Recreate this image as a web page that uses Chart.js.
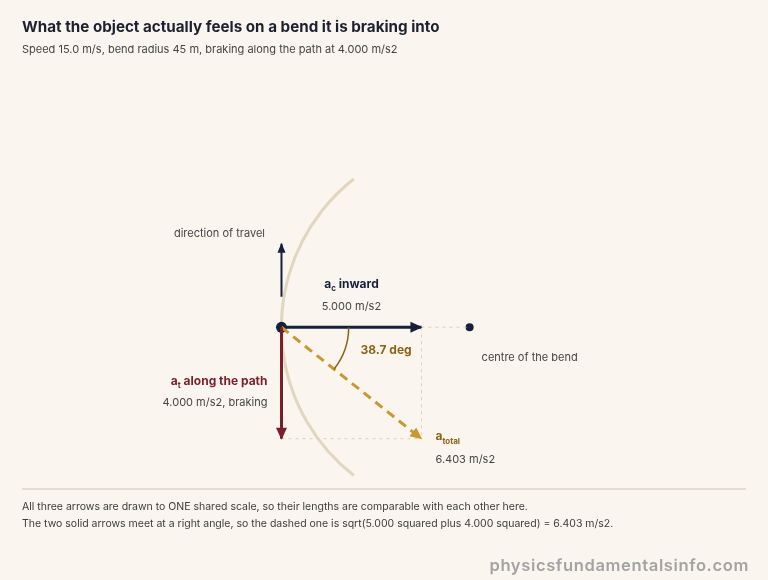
<!DOCTYPE html>
<html>
<head>
<meta charset="utf-8">
<script src="https://cdn.jsdelivr.net/npm/chart.js@4.4.1/dist/chart.umd.min.js"></script>
<style>
  html, body { margin: 0; padding: 0; background: #faf6ef; }
  body { width: 768px; height: 580px; position: relative; overflow: hidden; font-family: Inter, 'Noto Sans', sans-serif; }
  #diagram { position: absolute; left: 0; top: 0; }
  .txt { position: absolute; white-space: nowrap; }
  #title { left: 22px; top: 16px; font-size: 15.2px; font-weight: 700; color: #1d2030; line-height: 22px; }
  #subtitle { left: 22px; top: 41px; font-size: 11px; color: #444; line-height: 16px; }
  #rule { position: absolute; left: 22px; top: 488px; width: 724px; height: 2px; background: #e4ddcf; }
  .note { left: 22px; font-size: 10.5px; color: #3c3c3c; line-height: 15px; }
  #note1 { top: 499px; }
  #note2 { top: 516px; }
  #brand { right: 19px; top: 554px; font-size: 16.6px; font-weight: 600; color: #a3a3a3; letter-spacing: 0.6px; line-height: 22px; }
</style>
</head>
<body>
<canvas id="diagram" width="768" height="580"></canvas>
<div class="txt" id="title">What the object actually feels on a bend it is braking into</div>
<div class="txt" id="subtitle">Speed 15.0 m/s, bend radius 45 m, braking along the path at 4.000 m/s2</div>
<div id="rule"></div>
<div class="txt note" id="note1">All three arrows are drawn to ONE shared scale, so their lengths are comparable with each other here.</div>
<div class="txt note" id="note2">The two solid arrows meet at a right angle, so the dashed one is sqrt(5.000 squared plus 4.000 squared) = 6.403 m/s2.</div>
<div class="txt" id="brand">physicsfundamentalsinfo.com</div>

<script>
// ---- valeurs (m/s2) ----
const vectorLabels = ['inward', 'along the path', 'total'];
const centripetal = [5.000, 0];        // a_c : vers le centre
const tangential = [0, -4.000];        // a_t : freinage, le long du chemin
const total = [5.000, -4.000];         // a_total = a_c + a_t
const valueTexts = ['5.000 m/s2', '4.000 m/s2, braking', '6.403 m/s2'];
const angleText = ['38.7 deg'];
const travelArrow = [1.1, 3.0];        // fleche "direction of travel" (y)
const bendCentre = [6.72, 0];          // point "centre of the bend"
const angleArcRadius = [2.4];
const bendArcHalfSpanDeg = [52];

// couleurs
const NAVY = '#16203a';
const CRIMSON = '#7c1f2d';
const GOLD = '#c9982f';
const GOLD_DARK = '#8a6516';
const ROAD = '#e1d6be';
const GUIDE = '#d8d1c3';
const GREY = '#454545';

// cadrage : 28.4 px par m/s2, origine a (280, 328)
const PX = 28.4, OX = 280, OY = 328, W = 768, H = 580;

const pt = (a) => ({ x: a[0], y: a[1] });
const O = { x: 0, y: 0 };

function segment(from, to, color, width, dash) {
  return {
    type: 'line',
    data: [from, to],
    borderColor: color,
    borderWidth: width,
    borderDash: dash || [],
    borderCapStyle: 'butt',
    pointRadius: 0,
    fill: false,
    tension: 0
  };
}

// texte avec indice (a_c, a_t, a_total)
function richText(ctx, parts, x, y, align) {
  let w = 0;
  parts.forEach(p => { ctx.font = p.font; w += ctx.measureText(p.t).width; });
  let cx = align === 'center' ? x - w / 2 : align === 'right' ? x - w : x;
  ctx.textAlign = 'left';
  ctx.textBaseline = 'middle';
  parts.forEach(p => {
    ctx.font = p.font;
    ctx.fillStyle = p.color;
    ctx.fillText(p.t, cx, y + (p.dy || 0));
    cx += ctx.measureText(p.t).width;
  });
}

function arrowHead(ctx, x0, y0, x1, y1, color, len, half) {
  const a = Math.atan2(y1 - y0, x1 - x0);
  ctx.save();
  ctx.translate(x1, y1);
  ctx.rotate(a);
  ctx.fillStyle = color;
  ctx.beginPath();
  ctx.moveTo(1, 0);
  ctx.lineTo(-len, -half);
  ctx.lineTo(-len, half);
  ctx.closePath();
  ctx.fill();
  ctx.restore();
}

const bendPlugin = {
  id: 'bend',
  beforeDatasetsDraw(chart) {
    const { ctx, scales: { x, y } } = chart;
    const cx = x.getPixelForValue(bendCentre[0]);
    const cy = y.getPixelForValue(bendCentre[1]);
    const r = cx - x.getPixelForValue(0);
    const span = bendArcHalfSpanDeg[0] * Math.PI / 180;
    ctx.save();
    ctx.strokeStyle = ROAD;
    ctx.lineWidth = 3;
    ctx.beginPath();
    ctx.arc(cx, cy, r, Math.PI - span, Math.PI + span);
    ctx.stroke();
    ctx.restore();
  },
  afterDatasetsDraw(chart) {
    const { ctx, scales: { x, y } } = chart;
    const X = v => x.getPixelForValue(v);
    const Y = v => y.getPixelForValue(v);
    const ox = X(0), oy = Y(0);

    // pointes de fleches
    arrowHead(ctx, ox, Y(travelArrow[0]), ox, Y(travelArrow[1]), NAVY, 9, 4);
    arrowHead(ctx, ox, oy, X(centripetal[0]), Y(centripetal[1]), NAVY, 11, 5.5);
    arrowHead(ctx, ox, oy, X(tangential[0]), Y(tangential[1]), CRIMSON, 11, 5.5);
    arrowHead(ctx, ox, oy, X(total[0]), Y(total[1]), GOLD, 11, 5.5);

    // arc de l'angle
    const ang = Math.atan2(-tangential[1], centripetal[0]);
    const rr = X(angleArcRadius[0]) - ox;
    ctx.save();
    ctx.strokeStyle = GOLD_DARK;
    ctx.lineWidth = 1.5;
    ctx.beginPath();
    ctx.arc(ox, oy, rr, 0, ang);
    ctx.stroke();
    ctx.restore();

    const B = '700 12px Inter, sans-serif';
    const S = '700 8px Inter, sans-serif';
    const N = '11px Inter, sans-serif';
    const N11 = '11px Inter, sans-serif';

    // direction of travel
    richText(ctx, [{ t: 'direction of travel', font: N11, color: GREY }], ox - 62, Y(travelArrow[1]) - 10, 'center');

    // a_c
    const acx = X(centripetal[0] / 2);
    richText(ctx, [
      { t: 'a', font: B, color: NAVY },
      { t: 'c', font: S, color: NAVY, dy: 4 },
      { t: ' ' + vectorLabels[0], font: B, color: NAVY }
    ], acx, oy - 43, 'center');
    richText(ctx, [{ t: valueTexts[0], font: N, color: GREY }], acx, oy - 21, 'center');

    // angle
    richText(ctx, [{ t: angleText[0], font: B, color: GOLD_DARK }], ox + 79, oy + 23, 'left');

    // centre of the bend
    richText(ctx, [{ t: 'centre of the bend', font: N11, color: GREY }], X(bendCentre[0]) + 12, Y(bendCentre[1]) + 30, 'left');

    // a_t
    richText(ctx, [
      { t: 'a', font: B, color: CRIMSON },
      { t: 't', font: S, color: CRIMSON, dy: 4 },
      { t: ' ' + vectorLabels[1], font: B, color: CRIMSON }
    ], ox - 14, oy + 54, 'right');
    richText(ctx, [{ t: valueTexts[1], font: N, color: GREY }], ox - 14, oy + 75, 'right');

    // a_total
    const tx = X(total[0]), ty = Y(total[1]);
    richText(ctx, [
      { t: 'a', font: B, color: GOLD_DARK },
      { t: vectorLabels[2], font: S, color: GOLD_DARK, dy: 5 }
    ], tx + 14, ty - 2, 'left');
    richText(ctx, [{ t: valueTexts[2], font: N, color: GREY }], tx + 14, ty + 21, 'left');
  }
};

new Chart(document.getElementById('diagram'), {
  type: 'scatter',
  data: {
    datasets: [
      // guides pointilles
      segment(pt(centripetal), pt(bendCentre), GUIDE, 1, [3, 4]),
      segment(pt(centripetal), pt(total), GUIDE, 1, [3, 4]),
      segment(pt(tangential), pt(total), GUIDE, 1, [3, 4]),
      // fleches
      segment({ x: 0, y: travelArrow[0] }, { x: 0, y: travelArrow[1] }, NAVY, 2),
      segment(O, pt(tangential), CRIMSON, 3),
      segment(O, pt(total), GOLD, 3, [9, 6]),
      segment(O, pt(centripetal), NAVY, 3),
      // points
      {
        type: 'scatter',
        data: [O],
        pointRadius: 5.5,
        pointBackgroundColor: NAVY,
        pointBorderWidth: 0
      },
      {
        type: 'scatter',
        data: [pt(bendCentre)],
        pointRadius: 4,
        pointBackgroundColor: NAVY,
        pointBorderWidth: 0
      }
    ]
  },
  options: {
    responsive: false,
    animation: false,
    layout: { padding: 0 },
    plugins: { legend: { display: false }, tooltip: { enabled: false }, title: { display: false } },
    events: [],
    scales: {
      x: { type: 'linear', display: false, min: -OX / PX, max: (W - OX) / PX },
      y: { type: 'linear', display: false, min: -(H - OY) / PX, max: OY / PX }
    }
  },
  plugins: [bendPlugin]
});
</script>
</body>
</html>
